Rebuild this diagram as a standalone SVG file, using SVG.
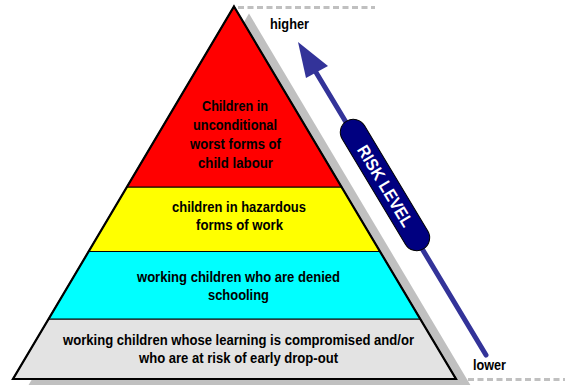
<svg xmlns="http://www.w3.org/2000/svg" width="565" height="385" viewBox="0 0 565 385">
  <style>
    .lbl { font-family: "Liberation Sans Narrow", "Liberation Sans", Arial, sans-serif; font-weight: bold; font-size: 15px; fill: #000; }
    .mid { text-anchor: middle; }
    .tier { stroke: #000; stroke-width: 1.2; }
    .dash { stroke: #c0c0c0; stroke-width: 3; stroke-dasharray: 6 3.5; fill: none; }
  </style>
  <rect width="565" height="385" fill="#fff"/>

  <!-- dashed guide lines -->
  <line class="dash" x1="238" y1="7.5" x2="375" y2="7.5"/>
  <line class="dash" x1="468" y1="379.5" x2="565" y2="379.5"/>

  <!-- shadow -->
  <polygon points="249,13.5 28,386 471,386" fill="#c0c0c0"/>

  <g id="tier-bottom">
    <polygon class="tier" points="48.6,319 420.3,319 456,379 13,379" fill="#e3e3e3"/>
    <text class="lbl mid" x="238.5" y="345" textLength="351" lengthAdjust="spacingAndGlyphs">working children whose learning is compromised and/or</text>
    <text class="lbl mid" x="238.5" y="363" textLength="199" lengthAdjust="spacingAndGlyphs">who are at risk of early drop-out</text>
  </g>
  <g id="tier-cyan">
    <polygon class="tier" points="88.6,251.5 380,251.5 420.3,319 48.6,319" fill="#00ffff"/>
    <text class="lbl mid" x="238.5" y="282" textLength="203" lengthAdjust="spacingAndGlyphs">working children who are denied</text>
    <text class="lbl mid" x="238.5" y="299.5" textLength="61" lengthAdjust="spacingAndGlyphs">schooling</text>
  </g>
  <g id="tier-yellow">
    <polygon class="tier" points="126.9,187 341.6,187 380,251.5 88.6,251.5" fill="#ffff00"/>
    <text class="lbl mid" x="239" y="212" textLength="134" lengthAdjust="spacingAndGlyphs">children in hazardous</text>
    <text class="lbl mid" x="239.5" y="230" textLength="87" lengthAdjust="spacingAndGlyphs">forms of work</text>
  </g>
  <g id="tier-red">
    <polygon class="tier" points="234,6.5 341.6,187 126.9,187" fill="#ff0000"/>
    <text class="lbl mid" x="235" y="111" textLength="66" lengthAdjust="spacingAndGlyphs">Children in</text>
    <text class="lbl mid" x="235" y="130" textLength="84" lengthAdjust="spacingAndGlyphs">unconditional</text>
    <text class="lbl mid" x="235.5" y="149" textLength="91" lengthAdjust="spacingAndGlyphs">worst forms of</text>
    <text class="lbl mid" x="235.5" y="168" textLength="75" lengthAdjust="spacingAndGlyphs">child labour</text>
  </g>
  <!-- pyramid outline -->
  <polygon points="234,6.5 456,379 13,379" fill="none" stroke="#000" stroke-width="2.2" stroke-linejoin="miter"/>

  <g id="connectors">
    <line x1="486" y1="355" x2="314" y2="69" stroke="#333399" stroke-width="5" stroke-linecap="round"/>
    <polygon points="298,42 328,66 306,78" fill="#333399"/>
  </g>

  <g id="risk-level" transform="translate(385,185) rotate(59)">
    <rect x="-74.5" y="-13" width="149" height="26" rx="13" ry="13" fill="#000080" stroke="#000" stroke-width="1"/>
    <text class="mid" x="1" y="6.2" font-family="Liberation Sans Narrow, Liberation Sans, Arial, sans-serif" font-weight="bold" font-size="17" fill="#fff" textLength="92" lengthAdjust="spacingAndGlyphs">RISK LEVEL</text>
  </g>

  <g id="label-higher">
    <text class="lbl" x="270" y="29" textLength="39" lengthAdjust="spacingAndGlyphs">higher</text>
  </g>
  <g id="label-lower">
    <text class="lbl" x="473" y="370" textLength="33" lengthAdjust="spacingAndGlyphs">lower</text>
  </g>
</svg>
